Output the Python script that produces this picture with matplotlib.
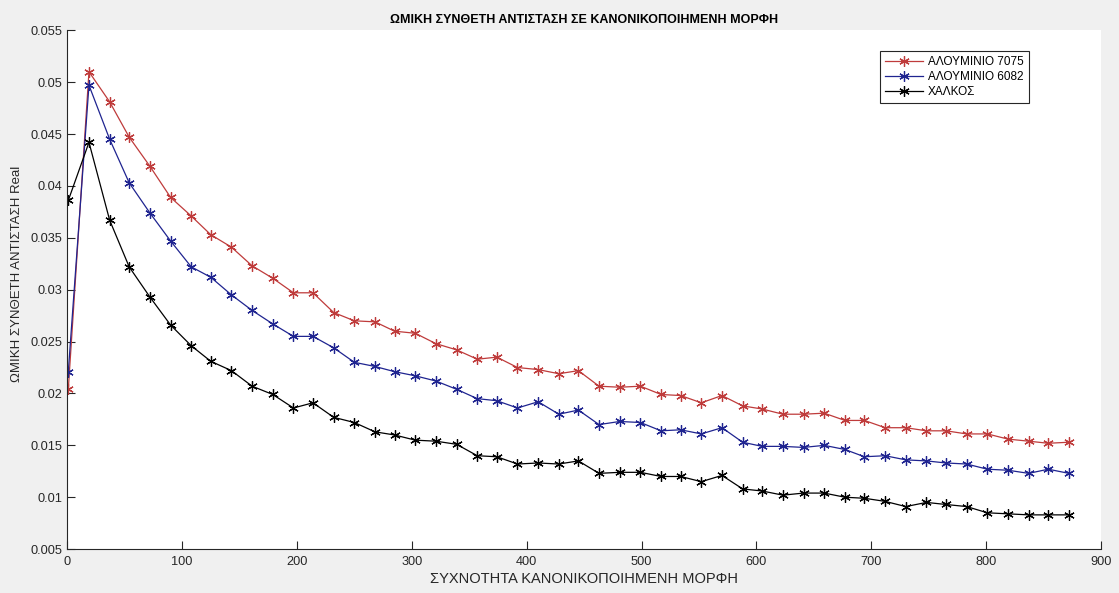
import numpy as np
import matplotlib
matplotlib.use('Agg')
import matplotlib.pyplot as plt

plt.rcParams['font.family'] = ['Liberation Sans', 'DejaVu Sans']

# frequency (normalised)
freq = [1, 19, 37, 54, 72, 90, 108, 125, 143, 161,
        179, 197, 214, 232, 250, 268, 285, 303, 321, 339,
        357, 374, 392, 410, 428, 445, 463, 481, 499, 517,
        534, 552, 570, 588, 605, 623, 641, 659, 677, 694,
        712, 730, 748, 765, 783, 801, 819, 837, 854, 872]

al7075 = [0.0204, 0.0510, 0.0481, 0.0447, 0.0419, 0.0389, 0.0371, 0.0353, 0.0341, 0.0323,
          0.0311, 0.0297, 0.0297, 0.0278, 0.0270, 0.0269, 0.0260, 0.0258, 0.0248, 0.0242,
          0.0233, 0.0235, 0.0225, 0.0223, 0.0219, 0.0222, 0.0207, 0.0206, 0.0207, 0.0199,
          0.0198, 0.0191, 0.0198, 0.0188, 0.0185, 0.0180, 0.0180, 0.0181, 0.0174, 0.0174,
          0.0167, 0.0167, 0.0164, 0.0164, 0.0161, 0.0161, 0.0156, 0.0154, 0.0152, 0.0153]

al6082 = [0.0221, 0.0497, 0.0445, 0.0403, 0.0374, 0.0347, 0.0322, 0.0312, 0.0295, 0.0280,
          0.0267, 0.0255, 0.0255, 0.0244, 0.0230, 0.0226, 0.0221, 0.0217, 0.0212, 0.0204,
          0.0195, 0.0193, 0.0186, 0.0192, 0.0180, 0.0184, 0.0170, 0.0173, 0.0172, 0.0164,
          0.0165, 0.0161, 0.0167, 0.0153, 0.0149, 0.0149, 0.0148, 0.0150, 0.0146, 0.0139,
          0.0140, 0.0136, 0.0135, 0.0133, 0.0132, 0.0127, 0.0126, 0.0123, 0.0127, 0.0123]

copper = [0.0386, 0.0442, 0.0367, 0.0322, 0.0293, 0.0266, 0.0246, 0.0231, 0.0222, 0.0207,
          0.0199, 0.0186, 0.0191, 0.0177, 0.0172, 0.0163, 0.0160, 0.0155, 0.0154, 0.0151,
          0.0140, 0.0139, 0.0132, 0.0133, 0.0132, 0.0135, 0.0123, 0.0124, 0.0124, 0.0120,
          0.0120, 0.0115, 0.0121, 0.0108, 0.0106, 0.0102, 0.0104, 0.0104, 0.0100, 0.0099,
          0.0096, 0.0091, 0.0095, 0.0093, 0.0091, 0.0085, 0.0084, 0.0083, 0.0083, 0.0083]

names = ['ΑΛΟΥΜΙΝΙΟ 7075', 'ΑΛΟΥΜΙΝΙΟ 6082', 'ΧΑΛΚΟΣ']

fig = plt.figure(figsize=(11.19, 5.93), dpi=100, facecolor='#f0f0f0')
ax = fig.add_axes([0.06, 0.074, 0.924, 0.875])

ast = (6, 2, 0)  # asterisk marker like matlab '*'
ax.plot(freq, al7075, '-', marker=ast, color='#bf3b3b', lw=0.9, ms=7.5, mew=0.9, label=names[0])
ax.plot(freq, al6082, '-', marker=ast, color='#1f2490', lw=0.9, ms=7.5, mew=0.9, label=names[1])
ax.plot(freq, copper, '-', marker=ast, color='black', lw=0.9, ms=7.5, mew=0.9, label=names[2])

ax.set_xlim(0, 900)
ax.set_ylim(0.005, 0.055)
ax.set_xticks(np.arange(0, 901, 100))
ax.set_yticks(np.arange(0.005, 0.0551, 0.005))
ax.set_yticklabels(['0.005', '0.01', '0.015', '0.02', '0.025', '0.03',
                    '0.035', '0.04', '0.045', '0.05', '0.055'])
for s in ['top', 'right']:
    ax.spines[s].set_visible(False)
for s in ['left', 'bottom']:
    ax.spines[s].set_color('#262626')
    ax.spines[s].set_linewidth(0.8)
ax.tick_params(direction='in', length=6, width=0.8, colors='#262626', labelsize=9.2)
ax.tick_params(axis='x', pad=5)

ax.set_title('ΩΜΙΚΗ ΣΥΝΘΕΤΗ ΑΝΤΙΣΤΑΣΗ ΣΕ ΚΑΝΟΝΙΚΟΠΟΙΗΜΕΝΗ ΜΟΡΦΗ',
             fontsize=9, fontweight='bold', pad=5)
ax.set_xlabel('ΣΥΧΝΟΤΗΤΑ ΚΑΝΟΝΙΚΟΠΟΙΗΜΕΝΗ ΜΟΡΦΗ', fontsize=10.5, color='#262626', labelpad=3)
ax.set_ylabel('ΩΜΙΚΗ ΣΥΝΘΕΤΗ ΑΝΤΙΣΤΑΣΗ Real', fontsize=9.5, color='#262626')
ax.yaxis.set_label_coords(-0.0426, 0.53)

leg = ax.legend(loc='upper right', bbox_to_anchor=(0.936, 0.972), fontsize=8.5,
                fancybox=False, framealpha=1, edgecolor='#262626',
                handlelength=3.2, borderpad=0.45, labelspacing=0.25, handletextpad=0.4)
leg.get_frame().set_linewidth(0.8)

plt.savefig('out.png', dpi=100, facecolor=fig.get_facecolor())
